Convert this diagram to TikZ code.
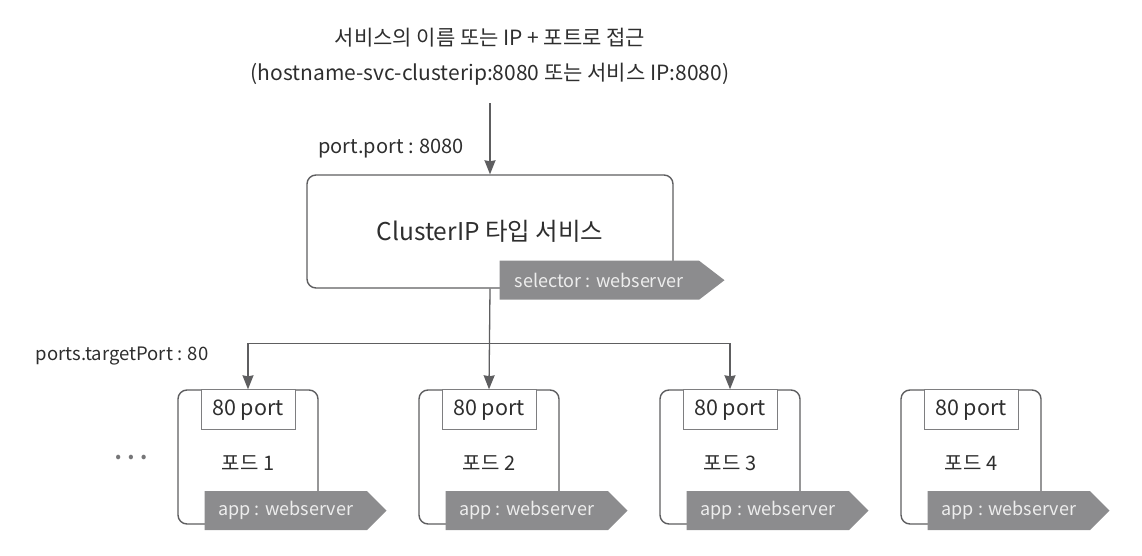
\documentclass[tikz,border=0pt]{standalone}
\usepackage{fontspec}
\setmainfont{Noto Sans CJK KR}
\usepackage{tikz}
\usetikzlibrary{arrows.meta,positioning,shapes.symbols}
\usepackage{xcolor}
\definecolor{linegray}{HTML}{5E5E60}
\definecolor{taggray}{HTML}{8C8C8E}
\definecolor{txtgray}{HTML}{2E2E2E}

\begin{document}
\begin{tikzpicture}[x=1pt, y=-1pt, node distance=241pt,
  every node/.style={font=\fontsize{20}{24}\selectfont, text=txtgray},
  box/.style={draw=linegray, line width=1.4pt, rounded corners=9pt},
  podbox/.style={box, minimum width=140pt, minimum height=134pt,
    text height=27pt},
  portbox/.style={draw=linegray!80, line width=1pt, fill=white,
    minimum width=94pt, minimum height=40pt, inner sep=0pt,
    font=\fontsize{21.5}{24}\selectfont},
  tag/.style={signal, signal to=east, signal pointer angle=90,
    fill=taggray, text=white!93!black, minimum height=39pt, inner sep=0pt,
    font=\fontsize{18}{22}\selectfont},
  conn/.style={-{Stealth[length=14pt, width=11pt, inset=1pt]},
    draw=linegray, line width=1.3pt}]
  \useasboundingbox (0,0) rectangle (1142,556);

  \node[align=center, font=\fontsize{21}{35}\selectfont] (title) at (490,57)
    {서비스의 이름 또는 IP + 포트로 접근\\(hostname-svc-clusterip:8080 또는 서비스 IP:8080)};

  \node[box, minimum width=366pt, minimum height=113pt,
    font=\fontsize{24.5}{28}\selectfont] (svc) at (490,231.5) {ClusterIP 타입 서비스};
  \node[tag, signal pointer angle=75, minimum width=225pt, anchor=west] (sel)
    at ([xshift=193pt, yshift=8.5pt]svc.south west) {selector : webserver};

  % pods
  \node[podbox] (pod1) at (248,457) {포드 1};
  \node[podbox] (pod2) [right of=pod1] {포드 2};
  \node[podbox] (pod3) [right of=pod2] {포드 3};
  \node[podbox] (pod4) [right of=pod3] {포드 4};
  \foreach \i in {1,...,4} {
    \node[portbox, anchor=north] (port\i) at (pod\i.north) {80 port};
    \node[tag, minimum width=182pt, anchor=west] (app\i)
      at ([xshift=27pt, yshift=14pt]pod\i.south west) {app : webserver};
  }
  \node[text=linegray!85, font=\fontsize{17}{20}\selectfont] (dots) at (131,459)
    {\textbullet\hspace{7pt}\textbullet\hspace{7pt}\textbullet};

  \draw[conn, shorten <=14pt] (title.south) -- node[pos=0.7, left=22pt] (portlbl)
    {port.port : 8080} (svc.north);
  \coordinate (bus) at ([yshift=-55pt]svc.south);
  \draw[conn] (svc.south) -- (pod2.north);
  \draw[conn] (bus) -| (pod1.north);
  \draw[conn] (bus) -| (pod3.north);
  \node[anchor=east, font=\fontsize{18.5}{22}\selectfont] (tplbl) at (212,356)
    {ports.targetPort : 80};
\end{tikzpicture}
\end{document}
